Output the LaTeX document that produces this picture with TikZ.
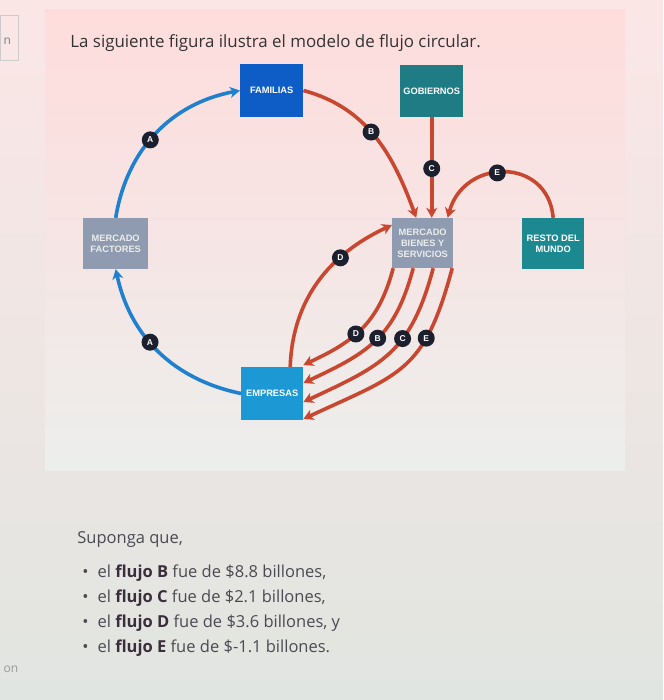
\documentclass[tikz,border=0pt]{standalone}
\usepackage{fontspec}
\setmainfont{Open Sans}
\newfontfamily\boxfont{Liberation Sans}
\usetikzlibrary{arrows.meta,positioning}
\definecolor{famblue}{HTML}{0E5CC6}
\definecolor{gobteal}{HTML}{1F7C85}
\definecolor{mktgray}{HTML}{8E9BB0}
\definecolor{empblue}{HTML}{1C98D4}
\definecolor{flowred}{HTML}{C9472F}
\definecolor{flowblue}{HTML}{1F80CF}
\definecolor{tagdark}{HTML}{1B1F2E}
\definecolor{txtgray}{HTML}{4B4A52}
\definecolor{txtbold}{HTML}{3A2E3C}
\tikzset{
  box/.style={minimum width=62pt,minimum height=52pt,inner sep=1pt,align=center,
    font=\boxfont\bfseries\fontsize{9.3}{11}\selectfont,text=white},
  flow/.style={line width=3.6pt,-{Stealth[length=10pt,width=11pt,inset=3pt]}},
  tag/.style={circle,fill=tagdark,text=white,inner sep=0pt,minimum size=17pt,
    font=\boxfont\bfseries\fontsize{8.5}{8.5}\selectfont},
  itemtxt/.style={anchor=base west,inner sep=0pt,text=txtgray,font=\fontsize{16.5}{19}\selectfont}
}
\begin{document}
\begin{tikzpicture}[x=1pt,y=1pt]
\shade[top color=black!4!pink!35!white,bottom color=green!8!gray!22!white] (0,0) rectangle (663,-700);
\shade[top color=red!12!pink!40!white,bottom color=green!6!gray!14!white] (45,-10) rectangle (625,-470);
\draw[gray!40] (0,-15) rectangle (18,-60);
\node[anchor=base west,text=gray,font=\fontsize{12}{12}\selectfont] (cut1) at (0,-45) {n};
\node[anchor=base west,text=gray!80,font=\fontsize{12}{12}\selectfont] (cut2) at (0,-672) {on};

\node[anchor=base west,inner sep=0pt,text=black!80,font=\fontsize{16.9}{20}\selectfont] (title) at (70,-48) {La siguiente figura ilustra el modelo de flujo circular.};

\node[box,fill=famblue,minimum width=63pt,minimum height=53pt] (fam) at (271.5,-90.5) {FAMILIAS};
\node[box,fill=gobteal,minimum width=63pt] (gob) at (431.5,-91) {GOBIERNOS};
\node[box,fill=mktgray,text=gray!15,minimum width=65pt,minimum height=51pt] (fac) at (115.5,-243.5) {MERCADO\\FACTORES};
\node[box,fill=mktgray,text=gray!15,minimum width=61pt,minimum height=50pt] (bie) at (422.5,-243) {MERCADO\\BIENES Y\\SERVICIOS};
\node[box,fill=gobteal!90!cyan,minimum height=51pt] (res) at (553,-243.5) {RESTO DEL\\MUNDO};
\node[box,fill=empblue,minimum height=53pt] (emp) at (272,-393.5) {EMPRESAS};

\draw[flow,flowblue] (fac.north) to[bend left=35] node[tag,pos=.45] (a1) {A} (fam.west);
\draw[flow,flowblue] (emp.west) to[bend left=33] node[tag,pos=.57] (a2) {A} (fac.south);

\draw[flow,flowred] (fam.east) to[out=-15,in=110] node[tag,pos=.46] (b1) {B} ([xshift=-6.5pt]bie.north);
\draw[flow,flowred] (gob.south) -- node[tag,pos=.51] (c1) {C} (gob.south |- bie.north);
\draw[flow,flowred] (res.north) to[out=95,in=75,looseness=1.5] node[tag,pos=.55] (e1) {E} ([xshift=25pt]bie.north);
\draw[flow,flowred] ([xshift=18pt]emp.north) to[out=88,in=205] node[tag,pos=.68] (d1) {D} ([yshift=18pt]bie.west);

\draw[flow,flowred] ([xshift=-29.5pt]bie.south) to[out=-105,in=25,looseness=1.1] node[tag,pos=.57] (d2) {D} ([yshift=28.5pt]emp.east);
\draw[flow,flowred] ([xshift=-9.5pt]bie.south) to[out=-105,in=25,looseness=1.15] node[tag,pos=.48] (b2) {B} ([yshift=10.5pt]emp.east);
\draw[flow,flowred] ([xshift=10.5pt]bie.south) to[out=-105,in=25,looseness=1.2] node[tag,pos=.38] (c2) {C} ([yshift=-8.5pt]emp.east);
\draw[flow,flowred] ([xshift=29.5pt]bie.south) to[out=-105,in=25,looseness=1.3] node[tag,pos=.3] (e2) {E} ([yshift=-25.5pt]emp.east);

\node[itemtxt] (intro) at (77,-543) {Suponga que,};
\node[itemtxt] (item1) at (82,-577) {\textbullet\hspace{9pt}el \textbf{\color{txtbold}flujo B} fue de \$8.8 billones,};
\node[itemtxt] (item2) at (82,-602) {\textbullet\hspace{9pt}el \textbf{\color{txtbold}flujo C} fue de \$2.1 billones,};
\node[itemtxt] (item3) at (82,-627) {\textbullet\hspace{9pt}el \textbf{\color{txtbold}flujo D} fue de \$3.6 billones, y};
\node[itemtxt] (item4) at (82,-652) {\textbullet\hspace{9pt}el \textbf{\color{txtbold}flujo E} fue de \$-1.1 billones.};
\end{tikzpicture}
\end{document}
